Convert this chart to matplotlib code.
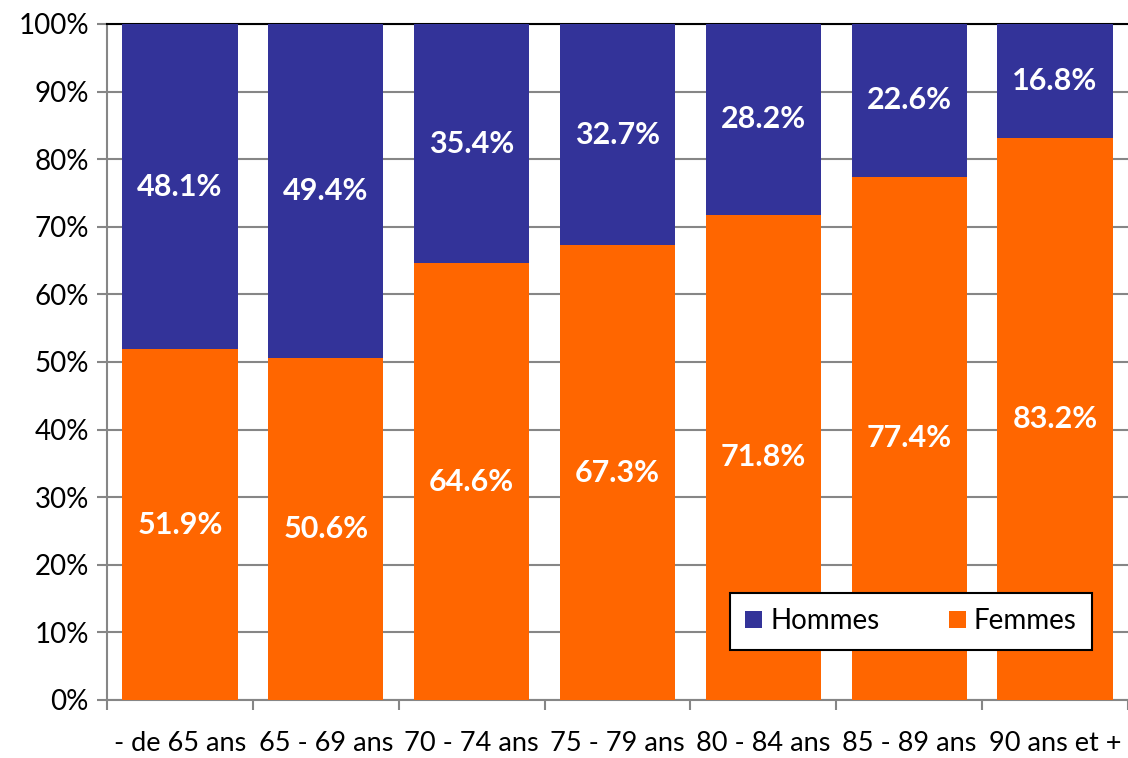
import numpy as np
import matplotlib.pyplot as plt

categories = ["- de 65 ans", "65 - 69 ans", "70 - 74 ans", "75 - 79 ans",
              "80 - 84 ans", "85 - 89 ans", "90 ans et +"]
femmes = [51.9, 50.6, 64.6, 67.3, 71.8, 77.4, 83.2]
hommes = [48.1, 49.4, 35.4, 32.7, 28.2, 22.6, 16.8]

orange = "#FF6600"
bleu = "#333399"
gris = "#868686"

plt.rcParams['font.family'] = ['Lato', 'DejaVu Sans']

fig = plt.figure(figsize=(11.28, 7.58), dpi=100)
ax = fig.add_axes([107 / 1128, 1 - 700 / 758, 1 - 107 / 1128, (700 - 24) / 758])

x = np.arange(len(categories))
w = 0.79
b1 = ax.bar(x, femmes, w, color=orange, label="Femmes", zorder=3)
b2 = ax.bar(x, hommes, w, bottom=femmes, color=bleu, label="Hommes", zorder=3)

# étiquettes au centre de chaque segment
for i in range(len(categories)):
    ax.text(x[i], femmes[i] / 2, f"{femmes[i]:.1f}%", ha="center", va="center",
            color="white", fontsize=22, fontweight="bold", zorder=4)
    ax.text(x[i], femmes[i] + hommes[i] / 2, f"{hommes[i]:.1f}%", ha="center", va="center",
            color="white", fontsize=22, fontweight="bold", zorder=4)

ax.set_xlim(-0.5, len(categories) - 0.5)
ax.set_ylim(0, 100)
ax.set_yticks(np.arange(0, 101, 10))
ax.set_yticklabels([f"{v}%" for v in range(0, 101, 10)], fontsize=20)
ax.yaxis.grid(True, color=gris, lw=1.5, zorder=0)
ax.tick_params(axis="y", length=7, width=1.5, color=gris, pad=6)

ax.set_xticks(x)
ax.set_xticklabels(categories, fontsize=19.5)
ax.tick_params(axis="x", which="major", length=0, pad=22)
ax.set_xticks(np.arange(-0.5, len(categories)), minor=True)
ax.tick_params(axis="x", which="minor", length=7, width=1.5, color=gris)

for s in ["left", "bottom"]:
    ax.spines[s].set_color(gris)
    ax.spines[s].set_linewidth(1.5)
ax.spines["right"].set_visible(False)
ax.spines["top"].set_color("black")
ax.spines["top"].set_linewidth(1.5)

leg = ax.legend(handles=[b2, b1], labels=["Hommes", "Femmes"], ncol=2,
                loc="upper left", bbox_to_anchor=((730 - 107) / 1021, 1 - (593 - 24) / 676),
                fontsize=20, frameon=True, fancybox=False, edgecolor="black", framealpha=1,
                handlelength=0.6, handleheight=0.6, handletextpad=0.3,
                columnspacing=2.5, borderpad=0.55, borderaxespad=0)
leg.get_frame().set_linewidth(1.5)
leg.set_zorder(5)

fig.savefig("out.png", dpi=100)
